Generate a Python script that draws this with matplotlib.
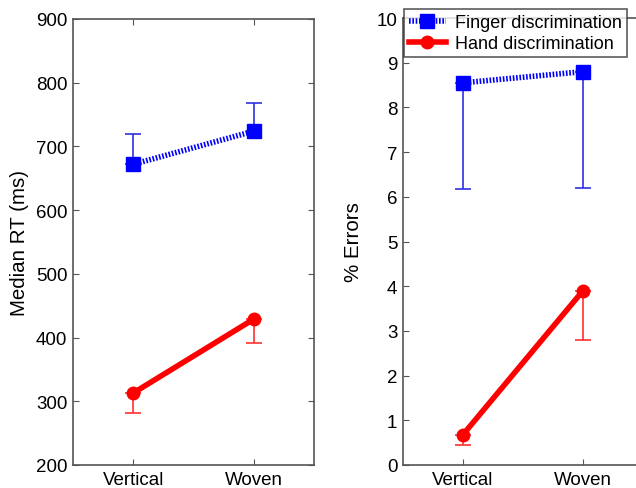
import matplotlib
matplotlib.use('Agg')
import matplotlib.pyplot as plt

plt.rcParams['font.family'] = ['Liberation Sans', 'DejaVu Sans']
plt.rcParams['font.size'] = 13.5

# Data
conditions = ['Vertical', 'Woven']
x = [1, 2]

finger_rt = [672, 724]
finger_rt_err = [48, 44]      # upper bars only
hand_rt = [313, 429]
hand_rt_err = [31, 37]        # lower bars only

finger_err = [8.55, 8.8]
finger_err_err = [2.37, 2.6]  # lower bars only
hand_err = [0.68, 3.9]
hand_err_err = [0.23, 1.1]    # lower bars only

blue = '#0000ff'
red = '#ff0000'
spine_col = '#555555'

fig = plt.figure(figsize=(6.36, 4.89), dpi=100)
ax1 = fig.add_axes([73/636, 23/489, 241/636, 446/489])
ax2 = fig.add_axes([403/636, 23/489, 240/636, 447/489])


def draw_panel(ax, fv, fe, hv, he, finger_up):
    zeros = [0, 0]
    ferr = [zeros, fe] if finger_up else [fe, zeros]
    ax.errorbar(x, fv, yerr=ferr, fmt='none', ecolor='#3030e0',
                elinewidth=1.2, capsize=6, capthick=1.2, zorder=2)
    ax.errorbar(x, hv, yerr=[he, zeros], fmt='none', ecolor='#ff3030',
                elinewidth=1.2, capsize=6, capthick=1.2, zorder=2)
    ax.plot(x, fv, color=blue, lw=4, dashes=(0.3, 0.3), marker='s',
            ms=10, mec=blue, mfc=blue, label='Finger discrimination', zorder=3)
    ax.plot(x, hv, color=red, lw=4, marker='o', ms=9,
            mec=red, mfc=red, label='Hand discrimination', zorder=3)
    ax.set_xlim(0.5, 2.5)
    ax.set_xticks(x)
    ax.set_xticklabels(conditions)
    ax.tick_params(direction='in', top=True, right=True, length=4,
                   color=spine_col, labelsize=13.5, pad=4)
    for s in ax.spines.values():
        s.set_color(spine_col)
        s.set_linewidth(1.2)


draw_panel(ax1, finger_rt, finger_rt_err, hand_rt, hand_rt_err, True)
ax1.set_ylim(200, 900)
ax1.set_yticks(range(200, 901, 100))
ax1.set_ylabel('Median RT (ms)', fontsize=14.8, labelpad=5)

draw_panel(ax2, finger_err, finger_err_err, hand_err, hand_err_err, False)
ax2.set_ylim(0, 10)
ax2.set_yticks(range(0, 11))
ax2.set_ylabel('% Errors', fontsize=14.8, labelpad=10)

leg = ax2.legend(loc='upper left', bbox_to_anchor=(404/636, 1 - 10/489),
                 bbox_transform=fig.transFigure, fontsize=13, frameon=True,
                 fancybox=False, borderaxespad=0, handlelength=2.0,
                 borderpad=0.3, labelspacing=0.2, handletextpad=0.5)
leg.get_frame().set_edgecolor('#333333')
leg.get_frame().set_linewidth(1.2)

fig.savefig('out.png', dpi=100)
